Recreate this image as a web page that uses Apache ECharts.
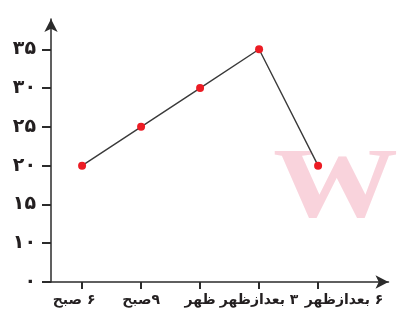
<!DOCTYPE html>
<html>
<head>
<meta charset="utf-8">
<script src="https://cdn.jsdelivr.net/npm/echarts@6/dist/echarts.min.js"></script>
<style>
  html, body { margin: 0; padding: 0; background: #fff; }
  #chart { width: 398px; height: 314px; }
</style>
</head>
<body>
<div id="chart"></div>
<script>
const hours = [6, 9, 12, 15, 18];
const hourLabels = ['۶ صبح', '۹صبح', 'ظهر', '۳ بعدازظهر', '۶ بعدازظهر'];
const values = [20, 25, 30, 35, 20];
// the bottom tick is labelled zero even though it sits one step below 10
const yTicks = [5, 10, 15, 20, 25, 30, 35];
const yTickLabels = ['۰', '۱۰', '۱۵', '۲۰', '۲۵', '۳۰', '۳۵'];

const chart = echarts.init(document.getElementById('chart'));
const lineColor = '#2b2b2b';
const textColor = '#231f20';
const xFont = { color: textColor, fontFamily: 'DejaVu Sans', fontWeight: 'bold', fontSize: 14 };
const xMin = 4.42, xMax = 21.58;

// pin the visual order: word on the left, number on the right
function persianLabel(s) {
  const m = s.match(/^([۰-۹]+)(\s*)(.*)$/);
  if (!m) return s;
  return '\u2066' + m[3] + '\u200E' + m[2] + m[1] + '\u2069';
}

function hourFormatter(v) {
  const i = hours.indexOf(v);
  if (i < 0) return '';
  const t = persianLabel(hourLabels[i]);
  if (i === 0) return '{first|' + t + '}';
  if (i === hours.length - 1) return '{last|' + t + '}';
  return t;
}

const labelBase = Object.assign({
  margin: 11,
  formatter: hourFormatter,
  rich: {
    first: Object.assign({ padding: [0, 16, 0, 0] }, xFont),
    last: Object.assign({ padding: [0, 0, 0, 52] }, xFont)
  }
}, xFont);

const option = {
  animation: false,
  grid: { left: 51, right: 9.5, top: 19, bottom: 32 },
  xAxis: [{
    type: 'value',
    min: xMin,
    max: xMax,
    splitLine: { show: false },
    axisLine: {
      lineStyle: { color: lineColor, width: 1.5 },
      symbol: ['none', 'arrow'],
      symbolSize: [10, 13]
    },
    axisTick: {
      customValues: hours,
      length: 7,
      lineStyle: { color: lineColor, width: 2 }
    },
    axisLabel: Object.assign({ customValues: hours.slice(0, -1) }, labelBase)
  }, {
    // second copy of the axis carries only the last (shifted) label
    type: 'value',
    position: 'bottom',
    min: xMin,
    max: xMax,
    splitLine: { show: false },
    axisLine: { show: false },
    axisTick: { show: false },
    axisLabel: Object.assign({ customValues: hours.slice(-1) }, labelBase)
  }],
  yAxis: {
    type: 'value',
    min: 5,
    max: 38.9,
    splitLine: { show: false },
    axisLine: {
      show: true,
      lineStyle: { color: lineColor, width: 1.5 },
      symbol: ['none', 'arrow'],
      symbolSize: [10, 13]
    },
    axisTick: {
      show: true,
      customValues: yTicks,
      length: 9,
      lineStyle: { color: lineColor, width: 2 }
    },
    axisLabel: {
      customValues: yTicks,
      margin: 15,
      color: textColor,
      fontFamily: 'DejaVu Sans',
      fontWeight: 'bold',
      fontSize: 19,
      formatter: v => {
        const i = yTicks.indexOf(v);
        return i < 0 ? '' : yTickLabels[i];
      }
    }
  },
  graphic: [{
    type: 'text',
    left: 273,
    top: 140,
    z: -10,
    scaleX: 1.25,
    style: {
      text: 'W',
      fontFamily: 'Liberation Serif',
      fontWeight: 'bold',
      fontSize: 100,
      fill: '#f9d3dc'
    }
  }],
  series: [{
    type: 'line',
    xAxisIndex: 0,
    data: hours.map((h, i) => [h, values[i]]),
    symbol: 'circle',
    symbolSize: 8,
    lineStyle: { color: '#3a3a3a', width: 1.4 },
    itemStyle: { color: '#ec1c24' }
  }]
};

chart.setOption(option);
</script>
</body>
</html>
